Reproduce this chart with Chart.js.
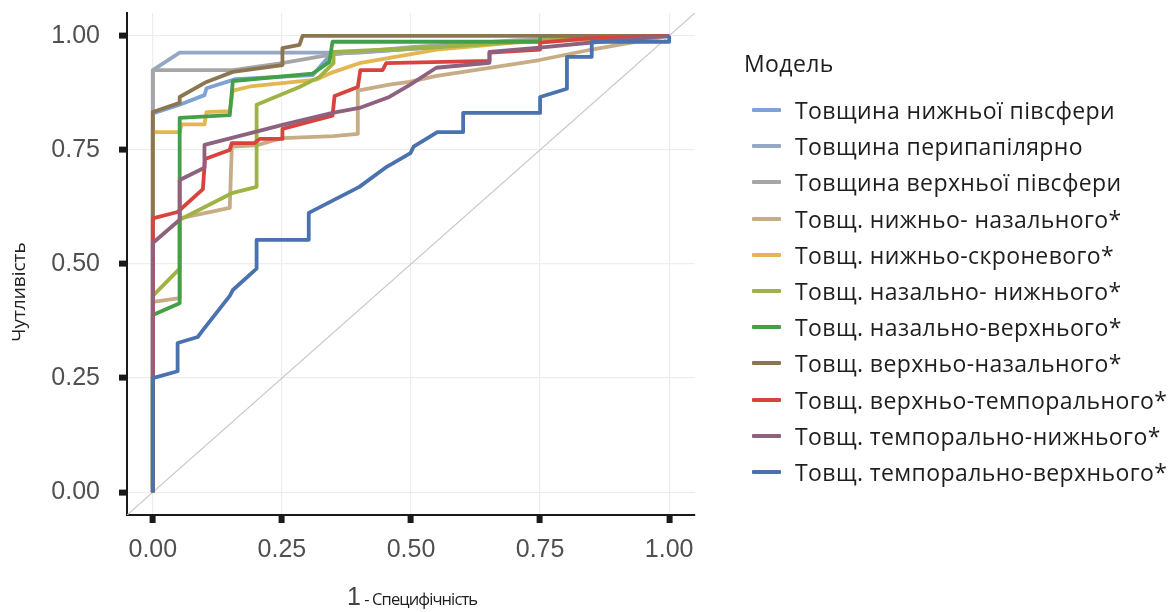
<!DOCTYPE html>
<html>
<head>
<meta charset="utf-8">
<script src="https://cdn.jsdelivr.net/npm/chart.js@4.4.1/dist/chart.umd.min.js"></script>
<style>
  html, body { margin: 0; padding: 0; background: #fff; }
  #wrap { position: relative; width: 1169px; height: 612px; overflow: hidden; }
  #roc { position: absolute; left: 0; top: 0; }
  #legend { position: absolute; left: 0; top: 0; width: 1169px; height: 612px; pointer-events: none;
            font-family: "Open Sans", "Noto Sans", sans-serif; color: #1e1e1e; }
  .lg-title { position: absolute; left: 744px; font-size: 23px; line-height: 28px; letter-spacing: 0.4px; }
  .lg-row { position: absolute; left: 752px; height: 30px; display: flex; align-items: center; white-space: nowrap; }
  .lg-key { width: 29px; height: 4px; border-radius: 1px; margin-right: 14px; }
  .lg-text { font-size: 23px; letter-spacing: 0.4px; }
  #xtitle { position: absolute; left: 347px; top: 582px; white-space: nowrap; color: #1e1e1e;
            font-family: "Open Sans", "Noto Sans", sans-serif; }
  #xtitle .one { font-size: 25px; font-family: "Liberation Sans", Arial, sans-serif; color: #444; }
  #xtitle .rest { font-size: 16.5px; letter-spacing: -0.9px; }
  #ytitle { position: absolute; left: 18px; top: 292px; transform: translate(-50%, -50%) rotate(-90deg);
            white-space: nowrap; color: #222; font-family: "Open Sans", "Noto Sans", sans-serif; font-size: 19px; }
</style>
</head>
<body>
<div id="wrap">
  <canvas id="roc" width="1169" height="612"></canvas>
  <div id="legend"></div>
  <div id="ytitle">Чутливість</div>
  <div id="xtitle"><span class="one">1</span><span class="rest"> - Специфічність</span></div>
</div>
<script>
// Axis ticks (both axes)
const tickValues = [0, 0.25, 0.5, 0.75, 1];

// Model names and line colours, in legend order
const modelLabels = [
  "Товщина нижньої півсфери",
  "Товщина перипапілярно",
  "Товщина верхньої півсфери",
  "Товщ. нижньо- назального*",
  "Товщ. нижньо-скроневого*",
  "Товщ. назально- нижнього*",
  "Товщ. назально-верхнього*",
  "Товщ. верхньо-назального*",
  "Товщ. верхньо-темпорального*",
  "Товщ. темпорально-нижнього*",
  "Товщ. темпорально-верхнього*"
];
const modelColors = [
  "#7DA3D6", "#94A8C6", "#A6A6A6", "#C7AD86", "#E3B650", "#9DB445",
  "#44A048", "#8B7651", "#D9433D", "#8E617F", "#4A72AE"
];

// ROC curves: false positive rate (1 - specificity) and sensitivity
const fprLowerHemi = [0, 0, 0.052, 0.1, 0.104, 0.16, 0.31, 0.345, 0.55, 0.75, 1];
const tprLowerHemi = [0, 0.83, 0.849, 0.87, 0.885, 0.905, 0.914, 0.96, 0.975, 0.99, 1];

const fprPeripapillary = [0, 0, 0.052, 0.4, 0.55, 0.75, 1];
const tprPeripapillary = [0, 0.925, 0.963, 0.963, 0.975, 0.99, 1];

const fprUpperHemi = [0, 0, 0.155, 0.25, 0.35, 0.5, 0.7, 1];
const tprUpperHemi = [0, 0.925, 0.925, 0.94, 0.96, 0.975, 0.99, 1];

const fprInfNasal = [0, 0, 0.052, 0.052, 0.149, 0.153, 0.2, 0.251, 0.35, 0.397, 0.397, 0.458, 0.497, 0.55, 0.652, 0.749, 0.85, 1];
const tprInfNasal = [0, 0.417, 0.425, 0.6, 0.623, 0.757, 0.76, 0.776, 0.78, 0.785, 0.88, 0.893, 0.899, 0.912, 0.93, 0.947, 0.97, 1];

const fprInfTemporal = [0, 0, 0.052, 0.056, 0.1, 0.104, 0.149, 0.155, 0.193, 0.317, 0.348, 0.4, 0.55, 0.7, 1];
const tprInfTemporal = [0, 0.789, 0.789, 0.806, 0.806, 0.833, 0.835, 0.88, 0.89, 0.904, 0.92, 0.94, 0.97, 0.985, 1];

const fprNasalInf = [0, 0, 0.052, 0.052, 0.155, 0.201, 0.201, 0.284, 0.323, 0.35, 0.35, 0.55, 0.75, 1];
const tprNasalInf = [0, 0.43, 0.49, 0.597, 0.656, 0.669, 0.849, 0.888, 0.91, 0.94, 0.965, 0.975, 0.99, 1];

const fprNasalSup = [0, 0, 0.052, 0.052, 0.149, 0.155, 0.309, 0.342, 0.348, 0.75, 0.75, 1];
const tprNasalSup = [0, 0.388, 0.414, 0.82, 0.826, 0.901, 0.917, 0.943, 0.987, 0.987, 1, 1];

const fprSupNasal = [0, 0, 0.052, 0.052, 0.104, 0.155, 0.251, 0.251, 0.284, 0.29, 1];
const tprSupNasal = [0, 0.833, 0.853, 0.866, 0.899, 0.921, 0.936, 0.973, 0.98, 1, 1];

const fprSupTemporal = [0, 0, 0.048, 0.097, 0.101, 0.149, 0.153, 0.197, 0.207, 0.251, 0.251, 0.348, 0.352, 0.397, 0.402, 0.445, 0.452, 0.652, 0.652, 0.75, 0.75, 0.85, 1];
const tprSupTemporal = [0, 0.6, 0.614, 0.664, 0.73, 0.75, 0.765, 0.765, 0.774, 0.774, 0.796, 0.825, 0.868, 0.888, 0.925, 0.925, 0.94, 0.945, 0.963, 0.97, 0.985, 0.995, 1];

const fprTempInf = [0, 0, 0.052, 0.052, 0.1, 0.1, 0.193, 0.251, 0.348, 0.4, 0.458, 0.497, 0.549, 0.652, 0.652, 0.749, 0.865, 1];
const tprTempInf = [0, 0.546, 0.597, 0.684, 0.711, 0.761, 0.788, 0.805, 0.831, 0.842, 0.866, 0.892, 0.93, 0.941, 0.965, 0.974, 0.987, 1];

const fprTempSup = [0, 0, 0.048, 0.048, 0.087, 0.097, 0.149, 0.155, 0.201, 0.201, 0.302, 0.302, 0.4, 0.453, 0.499, 0.505, 0.551, 0.601, 0.601, 0.75, 0.75, 0.802, 0.802, 0.85, 0.85, 1, 1];
const tprTempSup = [0, 0.25, 0.265, 0.327, 0.34, 0.355, 0.43, 0.443, 0.49, 0.553, 0.553, 0.612, 0.669, 0.713, 0.743, 0.757, 0.789, 0.789, 0.831, 0.831, 0.866, 0.884, 0.954, 0.954, 0.987, 0.987, 1];

const fprSeries = [fprLowerHemi, fprPeripapillary, fprUpperHemi, fprInfNasal, fprInfTemporal,
  fprNasalInf, fprNasalSup, fprSupNasal, fprSupTemporal, fprTempInf, fprTempSup];
const tprSeries = [tprLowerHemi, tprPeripapillary, tprUpperHemi, tprInfNasal, tprInfTemporal,
  tprNasalInf, tprNasalSup, tprSupNasal, tprSupTemporal, tprTempInf, tprTempSup];

// Chance line across the whole panel
const chanceX = [-0.05, 1.05];
const chanceY = [-0.05, 1.05];

const toPoints = (xs, ys) => xs.map((x, i) => ({ x: x, y: ys[i] }));

const datasets = modelLabels.map((label, i) => ({
  label: label,
  data: toPoints(fprSeries[i], tprSeries[i]),
  borderColor: modelColors[i],
  borderWidth: 3.8,
  order: modelLabels.length - i   // later models are drawn over earlier ones
}));
datasets.push({
  label: "chance",
  data: toPoints(chanceX, chanceY),
  borderColor: "#C9C9C9",
  borderWidth: 1.3,
  order: 100
});

const tickFont = { family: "'Liberation Sans', Arial, sans-serif", size: 25 };
const tickColor = "#505050";

new Chart(document.getElementById("roc"), {
  type: "line",
  data: { datasets: datasets },
  options: {
    responsive: false,
    animation: false,
    layout: { padding: { left: 0, top: 13, right: 474, bottom: 0 } },
    plugins: { legend: { display: false }, tooltip: { enabled: false } },
    elements: {
      point: { radius: 0 },
      line: { tension: 0, borderJoinStyle: "round", borderCapStyle: "butt" }
    },
    scales: {
      x: {
        type: "linear",
        min: -0.05, max: 1.05,
        afterBuildTicks: (s) => { s.ticks = tickValues.map(v => ({ value: v })); },
        afterFit: (s) => { s.height = 97; s.paddingLeft = 0; s.paddingRight = 0; },
        ticks: { callback: (v) => v.toFixed(2), font: tickFont, color: tickColor, padding: 12, maxRotation: 0 },
        grid: { color: "#EDEDED", lineWidth: 1.2, tickColor: "#1a1a1a", tickWidth: 6, tickLength: 8 },
        border: { color: "#1a1a1a", width: 2 }
      },
      y: {
        type: "linear",
        min: -0.05, max: 1.05,
        afterBuildTicks: (s) => { s.ticks = tickValues.map(v => ({ value: v })); },
        afterFit: (s) => { s.width = 127; s.paddingTop = 0; s.paddingBottom = 0; },
        ticks: { callback: (v) => v.toFixed(2), font: tickFont, color: tickColor, padding: 19 },
        grid: { color: "#EDEDED", lineWidth: 1.2, tickColor: "#1a1a1a", tickWidth: 6, tickLength: 8 },
        border: { color: "#1a1a1a", width: 2 }
      }
    }
  }
});

// Legend panel on the right
const legend = document.getElementById("legend");
const title = document.createElement("div");
title.className = "lg-title";
title.style.top = (63 - 14) + "px";
title.textContent = "Модель";
legend.appendChild(title);
modelLabels.forEach((label, i) => {
  const row = document.createElement("div");
  row.className = "lg-row";
  row.style.top = (110 + i * 36.2 - 15) + "px";
  const key = document.createElement("div");
  key.className = "lg-key";
  key.style.background = modelColors[i];
  const txt = document.createElement("span");
  txt.className = "lg-text";
  txt.textContent = label;
  row.appendChild(key);
  row.appendChild(txt);
  legend.appendChild(row);
});
</script>
</body>
</html>
